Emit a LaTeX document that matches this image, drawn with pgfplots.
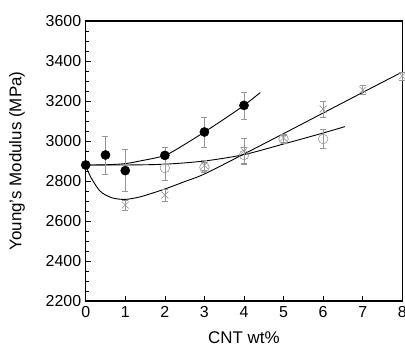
\documentclass[border=0pt]{standalone}
\usepackage{pgfplots}
\pgfplotsset{compat=1.18}
\usepackage{fontspec}
\setmainfont{Liberation Sans}
\definecolor{mk}{RGB}{150,150,150}
\begin{document}
\begin{tikzpicture}
\useasboundingbox (0,0) rectangle (405bp,347bp);
\begin{axis}[
  at={(85.7bp,46bp)}, anchor=south west,
  scale only axis, width=316.6bp, height=280bp,
  xmin=0, xmax=8, ymin=2200, ymax=3600,
  xtick={0,1,...,8}, ytick={2200,2400,...,3600},
  minor y tick num=3,
  tick align=inside, xtick pos=bottom, ytick pos=left,
  major tick length=5bp, minor tick length=3bp,
  every tick/.style={black, line width=0.6pt},
  axis line style={line width=1.2pt},
  /pgf/number format/assume math mode=true,
  /pgf/number format/1000 sep={},
  tick label style={font=\fontsize{16}{18}\selectfont},
  xticklabel style={yshift=-2bp},
  yticklabel style={xshift=-1bp},
  label style={font=\fontsize{17}{20}\selectfont},
  xlabel={CNT wt\%},
  xlabel style={at={(axis description cs:0.5,0)}, anchor=center, yshift=-37bp},
  ylabel={Young's Modulus (MPa)},
  ylabel style={at={(axis description cs:0,0.5)}, anchor=center, rotate=0, yshift=68.7bp},
  clip=false,
  error bars/y dir=both, error bars/y explicit,
  error bars/error bar style={mk, line width=0.5pt},
  error bars/error mark options={mk, line width=0.5pt, rotate=90, mark size=3bp},
]
% fitted curves
\addplot[black, line width=0.9pt, smooth, no marks] coordinates {
 (0,2880) (0.1,2830) (0.2,2795) (0.35,2752) (0.5,2730) (0.7,2714) (1,2708) (1.4,2722) (2,2760) (2.5,2797) (3,2835) (4,2935) (5,3037) (6,3140) (7,3243) (7.98,3343)};
\addplot[black, line width=0.9pt, smooth, no marks] coordinates {
 (0,2880) (1,2880) (2,2884) (3,2900) (4,2932) (5,2985) (6,3040) (6.55,3072)};
\addplot[black, line width=0.9pt, smooth, no marks] coordinates {
 (0,2880) (0.5,2881) (1,2887) (1.37,2900) (2,2928) (2.5,2983) (3,3045) (3.5,3110) (4,3178) (4.41,3242)};
% crosses
\addplot[mk, only marks, mark=x, mark size=5bp, line width=0.6pt] coordinates {
 (1,2680) +- (0,25) (2,2730) +- (0,30) (3,2878) +- (0,25) (4,2950) +- (0,65)
 (5,3015) +- (0,20) (6,3160) +- (0,40) (7,3255) +- (0,22) (8,3325) +- (0,20)};
% open circles
\addplot[mk, only marks, mark=o, mark size=4.8bp, line width=0.6pt] coordinates {
 (2,2865) +- (0,60) (3,2868) +- (0,25) (4,2930) +- (0,40) (5,3010) +- (0,20) (6,3010) +- (0,48)};
% filled circles
\addplot[black, only marks, mark=*, mark size=4.6bp] coordinates {
 (0,2880) +- (0,0) (0.5,2930) +- (0,95) (1,2852) +- (0,105) (2,2928) +- (0,42) (3,3045) +- (0,75) (4,3178) +- (0,68)};
\end{axis}
\end{tikzpicture}
\end{document}
